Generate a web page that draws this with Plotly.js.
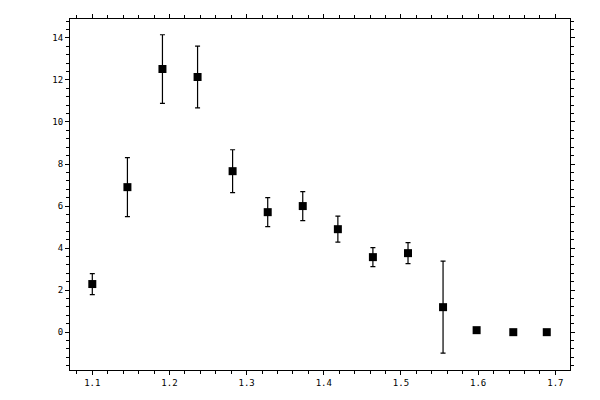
<!DOCTYPE html>
<html>
<head>
<meta charset="utf-8">
<script src="https://cdn.plot.ly/plotly-3.0.1.min.js"></script>
<style>
  html, body { margin: 0; padding: 0; background: #fff; }
  #chart { width: 600px; height: 400px; }
</style>
</head>
<body>
<div id="chart"></div>
<script>
// measured points
var xVals = [1.1, 1.1455, 1.1909, 1.2364, 1.2818, 1.3273, 1.3727, 1.4182, 1.4636, 1.5091, 1.5545, 1.598, 1.6455, 1.6889];
var yVals = [2.29, 6.9, 12.52, 12.14, 7.66, 5.71, 6.0, 4.9, 3.57, 3.76, 1.19, 0.095, 0.0, 0.0];
var yErr  = [0.5, 1.4, 1.63, 1.47, 1.02, 0.69, 0.69, 0.62, 0.45, 0.5, 2.19, 0, 0, 0];

var xTicks = [1.1, 1.2, 1.3, 1.4, 1.5, 1.6, 1.7];
var yTicks = [0, 2, 4, 6, 8, 10, 12, 14];

var tickFont = {family: "DejaVu Sans Mono", size: 9, color: "#000"};

var trace = {
  x: xVals,
  y: yVals,
  type: "scatter",
  mode: "markers",
  marker: {symbol: "square", size: 8, color: "#000"},
  error_y: {type: "data", array: yErr, visible: true, color: "#000", thickness: 1.2, width: 2.5},
  hoverinfo: "none"
};

var layout = {
  width: 600,
  height: 400,
  margin: {l: 70, r: 30, t: 19, b: 30},
  paper_bgcolor: "#fff",
  plot_bgcolor: "#fff",
  showlegend: false,
  xaxis: {
    range: [1.0711, 1.719],
    tickvals: xTicks,
    ticktext: xTicks.map(function(v) { return v.toFixed(1); }),
    ticks: "outside", ticklen: 4, tickwidth: 1, tickcolor: "#000",
    minor: {dtick: 0.02, ticks: "outside", ticklen: 3, tickwidth: 1, tickcolor: "#000"},
    showline: true, linecolor: "#000", linewidth: 1, mirror: "allticks",
    showgrid: false, zeroline: false,
    tickfont: tickFont
  },
  yaxis: {
    range: [-1.8, 14.9],
    tickvals: yTicks,
    ticks: "outside", ticklen: 4, tickwidth: 1, tickcolor: "#000",
    minor: {dtick: 0.4, ticks: "outside", ticklen: 3, tickwidth: 1, tickcolor: "#000"},
    showline: true, linecolor: "#000", linewidth: 1, mirror: "allticks",
    showgrid: false, zeroline: false,
    tickfont: tickFont
  },
  // inner halves of the major ticks
  xaxis2: {
    overlaying: "x", matches: "x", anchor: "y2",
    tickvals: xTicks, showticklabels: false,
    ticks: "inside", ticklen: 4, tickwidth: 1, tickcolor: "#000",
    mirror: "ticks", showline: false, showgrid: false, zeroline: false
  },
  yaxis2: {
    overlaying: "y", matches: "y", anchor: "x2",
    tickvals: yTicks, showticklabels: false,
    ticks: "inside", ticklen: 4, tickwidth: 1, tickcolor: "#000",
    mirror: "ticks", showline: false, showgrid: false, zeroline: false
  }
};

Plotly.newPlot("chart", [trace], layout, {staticPlot: true});
</script>
</body>
</html>
